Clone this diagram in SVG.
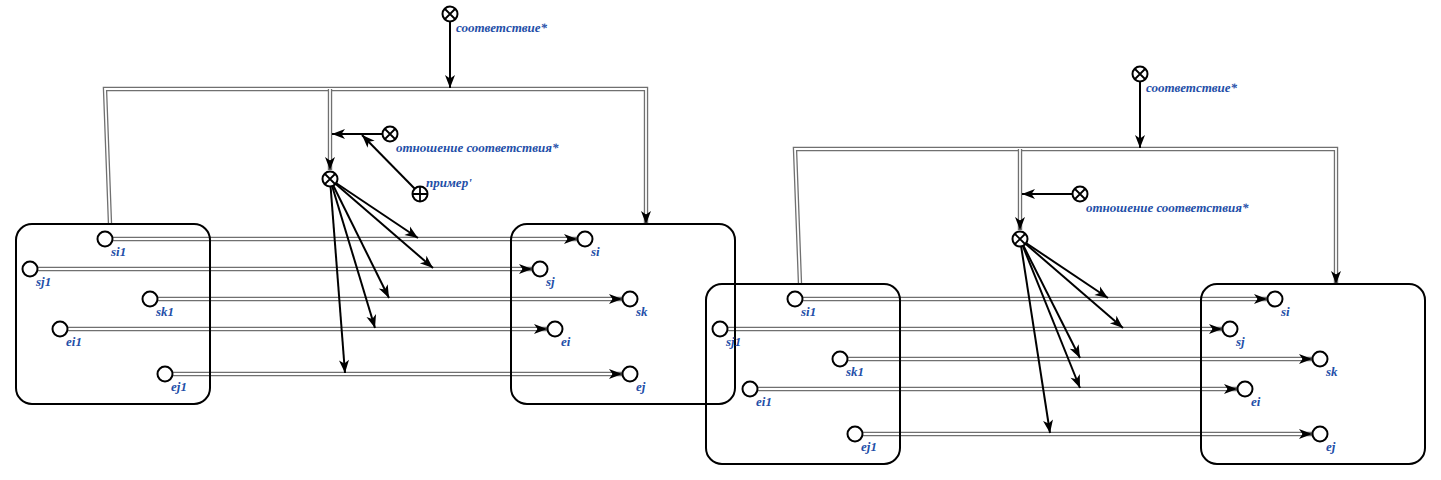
<svg xmlns="http://www.w3.org/2000/svg" width="1441" height="480" viewBox="0 0 1441 480">
<style>
.bg{fill:#fff}
.box{fill:none;stroke:#000;stroke-width:2}
.n{fill:#fff;stroke:#000;stroke-width:2}
.x{stroke:#000;stroke-width:1.8;fill:none}
.pa{fill:none;stroke:#707070;stroke-width:4.4}
.pb{fill:none;stroke:#fff;stroke-width:1.8}
.ar{fill:none;stroke:#000;stroke-width:2}
.lb{font-family:"Liberation Serif",serif;font-size:13px;font-weight:bold;font-style:italic;fill:#1f4fa8}
</style>
<defs>
<marker id="ah" markerUnits="userSpaceOnUse" markerWidth="14" markerHeight="10" refX="13" refY="5" orient="auto" overflow="visible">
<path d="M0,0 L13,5 L0,10 L3.5,5 Z" fill="#000"/>
</marker>
</defs>
<rect class="bg" width="1441" height="480"/>

<g id="connectors">
<g id="pairs-left">
<path class="pa" d="M110,224 L105,89 L646,89 L646,224"/>
<path class="pb" d="M110,224 L105,89 L646,89 L646,214"/>
<path class="pa" d="M330,89 L330,170"/>
<path class="pb" d="M330,89 L330,160"/>
<path class="pa" d="M112,239 L577,239"/><path class="pb" d="M112,239 L567,239"/>
<path class="pa" d="M37,269 L532,269"/><path class="pb" d="M37,269 L522,269"/>
<path class="pa" d="M157,299 L622,299"/><path class="pb" d="M157,299 L612,299"/>
<path class="pa" d="M67,329 L547,329"/><path class="pb" d="M67,329 L537,329"/>
<path class="pa" d="M172,374 L622,374"/><path class="pb" d="M172,374 L612,374"/>
<line x1="646" y1="210" x2="646" y2="224" stroke="none" marker-end="url(#ah)"/>
<line x1="330" y1="160" x2="330" y2="170" stroke="none" marker-end="url(#ah)"/>
<line x1="560" y1="239" x2="577" y2="239" stroke="none" marker-end="url(#ah)"/>
<line x1="515" y1="269" x2="532" y2="269" stroke="none" marker-end="url(#ah)"/>
<line x1="605" y1="299" x2="622" y2="299" stroke="none" marker-end="url(#ah)"/>
<line x1="530" y1="329" x2="547" y2="329" stroke="none" marker-end="url(#ah)"/>
<line x1="605" y1="374" x2="622" y2="374" stroke="none" marker-end="url(#ah)"/>
</g>
<g id="arcs-left">
<line class="ar" x1="450" y1="21" x2="450" y2="88" marker-end="url(#ah)"/>
<line class="ar" x1="383" y1="134" x2="332" y2="134" marker-end="url(#ah)"/>
<line class="ar" x1="415" y1="189" x2="362" y2="135" marker-end="url(#ah)"/>
<line class="ar" x1="330" y1="179" x2="418" y2="238" marker-end="url(#ah)"/>
<line class="ar" x1="330" y1="179" x2="433" y2="268" marker-end="url(#ah)"/>
<line class="ar" x1="330" y1="179" x2="389" y2="298" marker-end="url(#ah)"/>
<line class="ar" x1="330" y1="179" x2="375" y2="328" marker-end="url(#ah)"/>
<line class="ar" x1="330" y1="179" x2="345" y2="373" marker-end="url(#ah)"/>
</g>
<g id="pairs-right">
<path class="pa" d="M800,284 L795,149 L1336,149 L1336,284"/>
<path class="pb" d="M800,284 L795,149 L1336,149 L1336,274"/>
<path class="pa" d="M1020,149 L1020,230"/>
<path class="pb" d="M1020,149 L1020,220"/>
<path class="pa" d="M802,299 L1267,299"/><path class="pb" d="M802,299 L1257,299"/>
<path class="pa" d="M727,329 L1222,329"/><path class="pb" d="M727,329 L1212,329"/>
<path class="pa" d="M847,359 L1312,359"/><path class="pb" d="M847,359 L1302,359"/>
<path class="pa" d="M757,389 L1237,389"/><path class="pb" d="M757,389 L1227,389"/>
<path class="pa" d="M862,434 L1312,434"/><path class="pb" d="M862,434 L1302,434"/>
<line x1="1336" y1="270" x2="1336" y2="284" stroke="none" marker-end="url(#ah)"/>
<line x1="1020" y1="220" x2="1020" y2="230" stroke="none" marker-end="url(#ah)"/>
<line x1="1250" y1="299" x2="1267" y2="299" stroke="none" marker-end="url(#ah)"/>
<line x1="1205" y1="329" x2="1222" y2="329" stroke="none" marker-end="url(#ah)"/>
<line x1="1295" y1="359" x2="1312" y2="359" stroke="none" marker-end="url(#ah)"/>
<line x1="1220" y1="389" x2="1237" y2="389" stroke="none" marker-end="url(#ah)"/>
<line x1="1295" y1="434" x2="1312" y2="434" stroke="none" marker-end="url(#ah)"/>
</g>
<g id="arcs-right">
<line class="ar" x1="1140" y1="81" x2="1140" y2="148" marker-end="url(#ah)"/>
<line class="ar" x1="1073" y1="194" x2="1022" y2="194" marker-end="url(#ah)"/>
<line class="ar" x1="1020" y1="239" x2="1108" y2="298" marker-end="url(#ah)"/>
<line class="ar" x1="1020" y1="239" x2="1123" y2="328" marker-end="url(#ah)"/>
<line class="ar" x1="1020" y1="239" x2="1080" y2="358" marker-end="url(#ah)"/>
<line class="ar" x1="1020" y1="239" x2="1080" y2="388" marker-end="url(#ah)"/>
<line class="ar" x1="1020" y1="239" x2="1050" y2="433" marker-end="url(#ah)"/>
</g>
</g>

<g id="box-left-1"><rect class="box" x="16" y="224" width="194" height="180" rx="16"/></g>
<g id="box-left-2"><rect class="box" x="511" y="224" width="224" height="180" rx="16"/></g>
<g id="box-right-1"><rect class="box" x="706" y="284" width="194" height="180" rx="16"/></g>
<g id="box-right-2"><rect class="box" x="1201" y="284" width="224" height="180" rx="16"/></g>

<g id="node-sootv-L"><circle class="n" cx="450" cy="14" r="7.5"/><path class="x" d="M445,9 L455,19 M455,9 L445,19"/><text class="lb" x="456" y="32">соответствие*</text></g>
<g id="node-otn-L"><circle class="n" cx="390" cy="134" r="7.5"/><path class="x" d="M385,129 L395,139 M395,129 L385,139"/><text class="lb" x="396" y="152">отношение соответствия*</text></g>
<g id="node-primer-L"><circle class="n" cx="420" cy="194" r="7.5"/><path class="x" d="M420,186.5 L420,201.5 M412.5,194 L427.5,194"/><text class="lb" x="426" y="187">пример'</text></g>
<g id="node-rel-L"><circle class="n" cx="330" cy="179" r="7.5"/><path class="x" d="M325,174 L335,184 M335,174 L325,184"/></g>
<g id="node-si1-L"><circle class="n" cx="105" cy="239" r="7.5"/><text class="lb" x="111" y="256">si1</text></g>
<g id="node-sj1-L"><circle class="n" cx="30" cy="269" r="7.5"/><text class="lb" x="36" y="286">sj1</text></g>
<g id="node-sk1-L"><circle class="n" cx="150" cy="299" r="7.5"/><text class="lb" x="156" y="316">sk1</text></g>
<g id="node-ei1-L"><circle class="n" cx="60" cy="329" r="7.5"/><text class="lb" x="66" y="346">ei1</text></g>
<g id="node-ej1-L"><circle class="n" cx="165" cy="374" r="7.5"/><text class="lb" x="171" y="391">ej1</text></g>
<g id="node-si-L"><circle class="n" cx="585" cy="239" r="7.5"/><text class="lb" x="591" y="256">si</text></g>
<g id="node-sj-L"><circle class="n" cx="540" cy="269" r="7.5"/><text class="lb" x="546" y="286">sj</text></g>
<g id="node-sk-L"><circle class="n" cx="630" cy="299" r="7.5"/><text class="lb" x="636" y="316">sk</text></g>
<g id="node-ei-L"><circle class="n" cx="555" cy="329" r="7.5"/><text class="lb" x="561" y="346">ei</text></g>
<g id="node-ej-L"><circle class="n" cx="630" cy="374" r="7.5"/><text class="lb" x="636" y="391">ej</text></g>

<g id="node-sootv-R"><circle class="n" cx="1140" cy="74" r="7.5"/><path class="x" d="M1135,69 L1145,79 M1145,69 L1135,79"/><text class="lb" x="1146" y="92">соответствие*</text></g>
<g id="node-otn-R"><circle class="n" cx="1080" cy="194" r="7.5"/><path class="x" d="M1075,189 L1085,199 M1085,189 L1075,199"/><text class="lb" x="1086" y="212">отношение соответствия*</text></g>
<g id="node-rel-R"><circle class="n" cx="1020" cy="239" r="7.5"/><path class="x" d="M1015,234 L1025,244 M1025,234 L1015,244"/></g>
<g id="node-si1-R"><circle class="n" cx="795" cy="299" r="7.5"/><text class="lb" x="801" y="316">si1</text></g>
<g id="node-sj1-R"><circle class="n" cx="720" cy="329" r="7.5"/><text class="lb" x="726" y="346">sj1</text></g>
<g id="node-sk1-R"><circle class="n" cx="840" cy="359" r="7.5"/><text class="lb" x="846" y="376">sk1</text></g>
<g id="node-ei1-R"><circle class="n" cx="750" cy="389" r="7.5"/><text class="lb" x="756" y="406">ei1</text></g>
<g id="node-ej1-R"><circle class="n" cx="855" cy="434" r="7.5"/><text class="lb" x="861" y="451">ej1</text></g>
<g id="node-si-R"><circle class="n" cx="1275" cy="299" r="7.5"/><text class="lb" x="1281" y="316">si</text></g>
<g id="node-sj-R"><circle class="n" cx="1230" cy="329" r="7.5"/><text class="lb" x="1236" y="346">sj</text></g>
<g id="node-sk-R"><circle class="n" cx="1320" cy="359" r="7.5"/><text class="lb" x="1326" y="376">sk</text></g>
<g id="node-ei-R"><circle class="n" cx="1245" cy="389" r="7.5"/><text class="lb" x="1251" y="406">ei</text></g>
<g id="node-ej-R"><circle class="n" cx="1320" cy="434" r="7.5"/><text class="lb" x="1326" y="451">ej</text></g>
</svg>
